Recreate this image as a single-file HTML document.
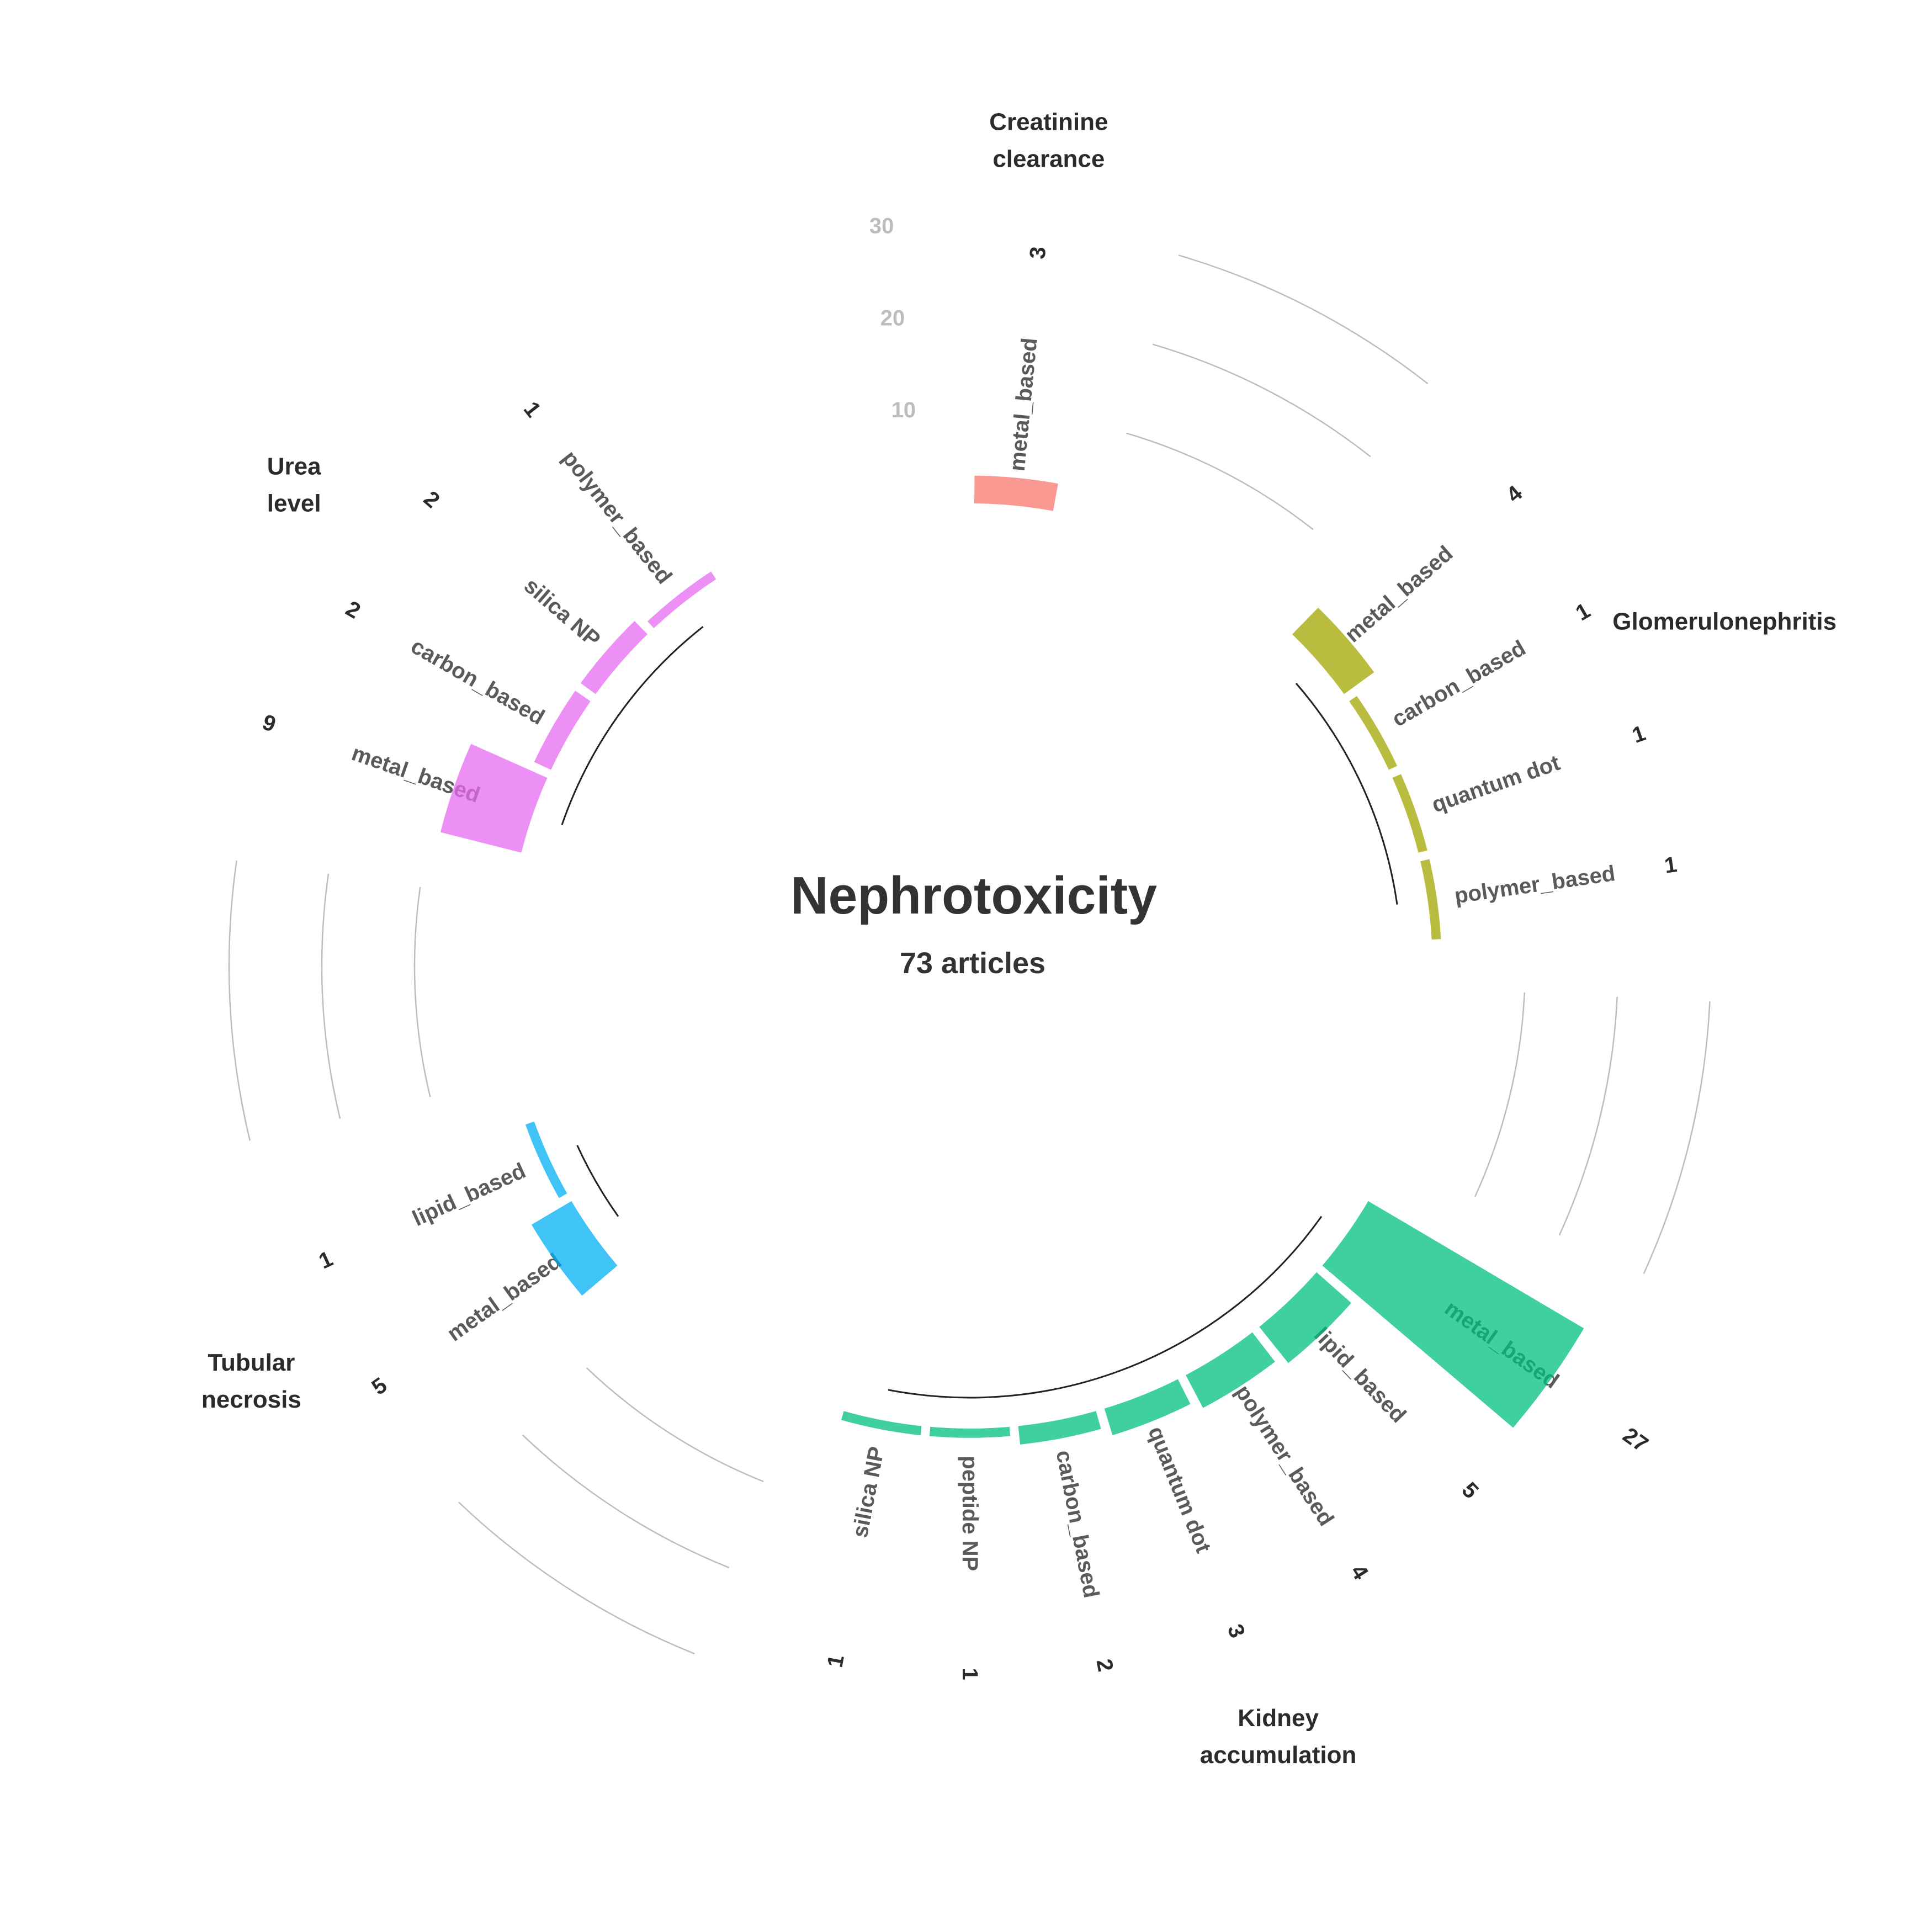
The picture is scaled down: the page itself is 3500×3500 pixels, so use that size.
<!DOCTYPE html>
<html><head><meta charset="utf-8"><title>Nephrotoxicity</title>
<style>html,body{margin:0;padding:0;background:#fff}svg{display:block;font-family:"Liberation Sans",Arial,sans-serif;font-weight:bold}</style>
</head><body>
<svg id="chart" width="3500" height="3500" viewBox="0 0 3500 3500" xmlns="http://www.w3.org/2000/svg">
<rect width="3500" height="3500" fill="#fff"/>
<g id="grid"></g>
<g id="scale"></g>
<g id="baselines"></g>
<g id="catlabels"></g>
<g id="bars"></g>
<g id="counts"></g>
<g id="grouplabels"></g>
<text x="1764" y="1655" text-anchor="middle" font-size="96" fill="#333" textLength="664" lengthAdjust="spacingAndGlyphs">Nephrotoxicity</text>
<text x="1762" y="1763" text-anchor="middle" font-size="54" fill="#333">73 articles</text>
</svg>
<script>
const groupNames = ["Creatinine clearance","Glomerulonephritis","Kidney accumulation","Tubular necrosis","Urea level"];
const groupColors = ["#F8766D","#A3A500","#00BF7D","#00B0F6","#E76BF3"];
const barGroups = [0, 1,1,1,1, 2,2,2,2,2,2,2, 3,3, 4,4,4,4];
const barCategories = ["metal_based",
  "metal_based","carbon_based","quantum dot","polymer_based",
  "metal_based","lipid_based","polymer_based","quantum dot","carbon_based","peptide NP","silica NP",
  "metal_based","lipid_based",
  "metal_based","carbon_based","silica NP","polymer_based"];
const barValues = [3, 4,1,1,1, 27,5,4,3,2,1,1, 5,1, 9,2,2,1];
const gridTicks = [10,20,30];

const NS="http://www.w3.org/2000/svg";
const cx=1757, cy=1750, r0=838, perUnit=16.8;
const nSlots=33, w=360/nSlots, off=w/2, gapSlots=3;
function rad(v){return r0+perUnit*v;}
function ang(slot){return off+slot*w;}
function pt(r,a){const t=a*Math.PI/180;return [cx+r*Math.sin(t), cy-r*Math.cos(t)];}
function arcPath(r,a1,a2){const p1=pt(r,a1),p2=pt(r,a2);const large=(a2-a1)>180?1:0;return `M${p1[0]},${p1[1]} A${r},${r} 0 ${large} 1 ${p2[0]},${p2[1]}`;}
function mk(tag,attrs,parent){const e=document.createElementNS(NS,tag);for(const k in attrs)e.setAttribute(k,attrs[k]);parent.appendChild(e);return e;}

const slots=[];const groupSlots=groupNames.map(()=>[]);
let s=0;
for(let i=0;i<barValues.length;i++){
  if(i>0 && barGroups[i]!==barGroups[i-1]) s+=gapSlots;
  slots.push(s); groupSlots[barGroups[i]].push(s); s++;
}

const gGrid=document.getElementById('grid'),gScale=document.getElementById('scale'),gBase=document.getElementById('baselines'),
gCat=document.getElementById('catlabels'),gBars=document.getElementById('bars'),gCnt=document.getElementById('counts'),gGrp=document.getElementById('grouplabels');

// gridlines in gaps (not in last gap, where scale labels sit)
for(let g=0;g<groupNames.length-1;g++){
  const last=groupSlots[g][groupSlots[g].length-1];
  const a1=ang(last+1), a2=ang(last+gapSlots);
  gridTicks.forEach(t=>{
    const p=mk('path',{d:arcPath(rad(t),a1,a2),fill:'none',stroke:'#bdbdbd','stroke-width':2.5},gGrid);
    
    
  });
}
gridTicks.forEach(t=>{
  const p=pt(rad(t)+8,-6.8);
  const e=mk('text',{x:p[0],y:p[1],'text-anchor':'middle','dominant-baseline':'central','font-size':40,fill:'#bdbdbd'},gScale);
  e.textContent=String(t);
  
  
});
for(let g=0;g<groupNames.length;g++){
  const gs=groupSlots[g]; if(gs.length<2) continue;
  const p=mk('path',{d:arcPath(782,ang(gs[0]),ang(gs[gs.length-1])),fill:'none',stroke:'#222','stroke-width':3},gBase);
  
  
}
for(let i=0;i<barValues.length;i++){
  const a=ang(slots[i]); const v=barValues[i];
  const rs=(385+7.5*(1.2+0.4*v))*2.235;
  const p=pt(rs,a);
  const flip=a>180.5;
  const rot=flip?a+90:a-90;
  const e=mk('text',{x:p[0],y:p[1],'text-anchor':flip?'end':'start','dominant-baseline':'central','font-size':40,fill:'#5a5a5a',transform:`rotate(${rot} ${p[0]} ${p[1]})`},gCat);
  e.textContent=barCategories[i];
  
  
}
for(let i=0;i<barValues.length;i++){
  const a=ang(slots[i]); const a1=a-0.45*w, a2=a+0.45*w;
  const ro=rad(barValues[i]);
  const p1=pt(r0,a1),p2=pt(ro,a1),p3=pt(ro,a2),p4=pt(r0,a2);
  const d=`M${p1[0]},${p1[1]} L${p2[0]},${p2[1]} A${ro},${ro} 0 0 1 ${p3[0]},${p3[1]} L${p4[0]},${p4[1]} A${r0},${r0} 0 0 0 ${p1[0]},${p1[1]} Z`;
  const b=mk('path',{d:d,fill:groupColors[barGroups[i]],'fill-opacity':0.75},gBars);
  
  
}
for(let i=0;i<barValues.length;i++){
  const a=ang(slots[i]); const v=barValues[i];
  const p=pt(1275+7.6*v,a);
  const rot=a>180.5?a+90:a-90;
  const e=mk('text',{x:p[0],y:p[1],'text-anchor':'middle','dominant-baseline':'central','font-size':40,fill:'#2b2b2b',transform:`rotate(${rot} ${p[0]} ${p[1]})`},gCnt);
  e.textContent=String(v);
  
  
}
for(let g=0;g<groupNames.length;g++){
  const gs=groupSlots[g]; const a=(ang(gs[0])+ang(gs[gs.length-1]))/2;
  const p=pt(1503,a);
  const lines=groupNames[g].split(' ');
  const lh=67; const y0=p[1]-(lines.length-1)*lh/2;
  const t=mk('text',{'text-anchor':'middle','dominant-baseline':'central','font-size':44,fill:'#2b2b2b'},gGrp);
  
  
  lines.forEach((ln,k)=>{const ts=mk('tspan',{x:p[0],y:y0+k*lh},t);ts.textContent=ln;});
}
</script>
</body></html>
